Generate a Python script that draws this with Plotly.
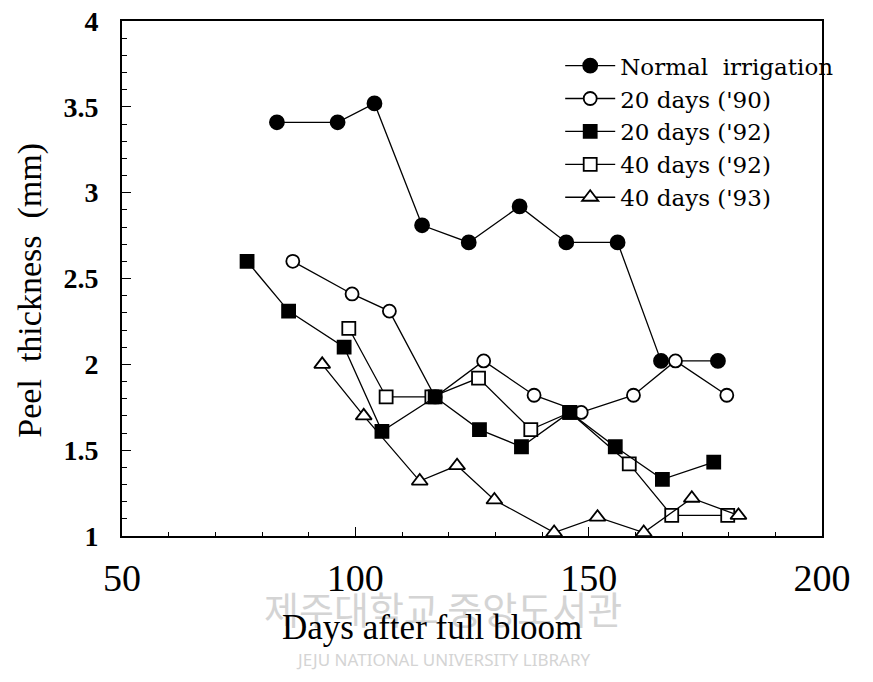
import plotly.graph_objects as go

# ---- data ----
days_normal = [83.2, 96.2, 104.1, 114.3, 124.3, 135.2, 145.2, 156.2, 165.5, 177.7]
peel_normal = [3.41, 3.41, 3.52, 2.81, 2.71, 2.92, 2.71, 2.71, 2.02, 2.02]

days_20_90 = [86.6, 99.3, 107.3, 117.1, 127.5, 138.3, 148.4, 159.6, 168.6, 179.6]
peel_20_90 = [2.60, 2.41, 2.31, 1.81, 2.02, 1.82, 1.72, 1.82, 2.02, 1.82]

days_20_92 = [76.8, 85.7, 97.6, 105.7, 117.1, 126.6, 135.6, 145.9, 155.7, 165.8, 176.8]
peel_20_92 = [2.60, 2.31, 2.10, 1.61, 1.81, 1.62, 1.52, 1.72, 1.52, 1.33, 1.43]

days_40_92 = [98.6, 106.6, 116.4, 126.4, 137.6, 146.0, 158.7, 167.8, 179.8]
peel_40_92 = [2.21, 1.81, 1.81, 1.92, 1.62, 1.72, 1.42, 1.12, 1.12]

days_40_93 = [92.9, 101.8, 113.8, 121.8, 129.8, 142.6, 151.9, 161.8, 172.1, 182.1]
peel_40_93 = [2.00, 1.70, 1.32, 1.41, 1.21, 1.02, 1.11, 1.02, 1.22, 1.12]

x_ticks = [50, 100, 150, 200]
y_ticks = [1, 1.5, 2, 2.5, 3, 3.5, 4]
y_tick_text = ["1", "1.5", "2", "2.5", "3", "3.5", "4"]

SERIF = "Liberation Serif"
LEG_FONT = "DejaVu Serif"

fig = go.Figure()

def add(name, xs, ys, symbol, fill, size, rank):
    fig.add_trace(go.Scatter(
        x=xs, y=ys, name=name, mode="lines+markers",
        line=dict(color="black", width=1.3),
        marker=dict(symbol=symbol, size=size, color=fill,
                    line=dict(color="black", width=1.8)),
        legendrank=rank, cliponaxis=False,
    ))

add("Normal  irrigation", days_normal, peel_normal, "circle", "black", 14, 1)
add("20 days ('90)", days_20_90, peel_20_90, "circle", "white", 13, 2)
add("40 days ('92)", days_40_92, peel_40_92, "square", "white", 13, 4)
add("20 days ('92)", days_20_92, peel_20_92, "square", "black", 13, 3)
add("40 days ('93)", days_40_93, peel_40_93, "triangle-up", "white", 14, 5)

fig.update_layout(
    width=873, height=682,
    margin=dict(l=114, r=59, t=13, b=154, autoexpand=False),
    paper_bgcolor="white", plot_bgcolor="white",
    showlegend=True,
    legend=dict(x=0.626, y=0.955, xanchor="left", yanchor="top",
                bgcolor="rgba(0,0,0,0)", borderwidth=0,
                font=dict(family=LEG_FONT, size=23, color="black"),
                itemwidth=50, tracegroupgap=0),
    font=dict(family=SERIF, color="black"),
)

fig.update_xaxes(
    range=[50, 200], tickvals=x_ticks, ticktext=[str(v) for v in x_ticks],
    ticks="inside", ticklen=9, tickwidth=1.3, tickcolor="black",
    minor=dict(dtick=10, ticks="inside", ticklen=4, tickwidth=1, tickcolor="black"),
    showline=True, linecolor="black", linewidth=1.6, mirror=True,
    showgrid=False, zeroline=False, automargin=False,
    tickfont=dict(family=SERIF, size=38, color="black"),
    ticklabelstandoff=8, ticklabeloverflow="allow",
)
fig.update_yaxes(
    range=[1, 4], tickvals=y_ticks, ticktext=y_tick_text,
    ticks="inside", ticklen=9, tickwidth=1.3, tickcolor="black",
    minor=dict(dtick=0.1, ticks="inside", ticklen=5, tickwidth=1, tickcolor="black"),
    showline=True, linecolor="black", linewidth=1.6, mirror=True,
    showgrid=False, zeroline=False, automargin=False,
    tickfont=dict(family=SERIF, size=28, color="black", weight="bold"),
    ticklabelstandoff=16, ticklabeloverflow="allow",
)

# faint library watermark
fig.add_annotation(text="제주대학교 중앙도서관", xref="paper", yref="paper",
                   x=0.459, y=-0.138, xanchor="center", yanchor="middle", showarrow=False,
                   font=dict(family="Noto Sans CJK KR", size=38, color="#d4d4d4"))
fig.add_annotation(text="JEJU NATIONAL UNIVERSITY LIBRARY", xref="paper", yref="paper",
                   x=0.459, y=-0.24, xanchor="center", yanchor="middle", showarrow=False,
                   font=dict(family="Noto Sans", size=17, color="#d4d4d4"))

# axis titles
fig.add_annotation(text="Days after full bloom", xref="paper", yref="paper",
                   x=0.443, y=-0.178, xanchor="center", yanchor="middle", showarrow=False,
                   font=dict(family=SERIF, size=35, color="black"))
fig.add_annotation(text="Peel\u00a0 thickness\u00a0 (mm)", xref="paper", yref="paper",
                   x=-0.131, y=0.477, xanchor="center", yanchor="middle", showarrow=False,
                   textangle=-90,
                   font=dict(family=SERIF, size=34, color="black"))

fig.write_html("out.html")
